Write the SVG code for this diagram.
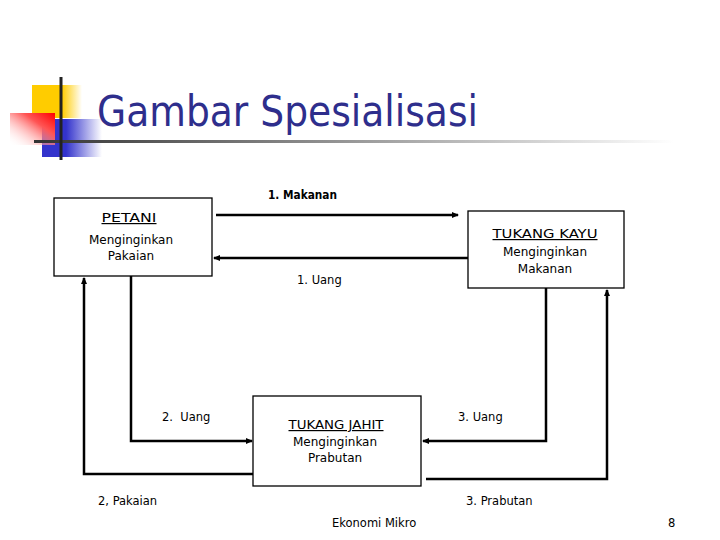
<svg xmlns="http://www.w3.org/2000/svg" width="720" height="540" viewBox="0 0 720 540">
<defs>
<linearGradient id="gYel" x1="0" y1="0" x2="1" y2="0">
<stop offset="0" stop-color="#ffcc00"/><stop offset="0.6" stop-color="#ffcc00"/><stop offset="1" stop-color="#ffcc00" stop-opacity="0"/>
</linearGradient>
<linearGradient id="gRed" x1="1" y1="0" x2="0" y2="1">
<stop offset="0" stop-color="#ff0000"/><stop offset="0.35" stop-color="#ff5555"/><stop offset="1" stop-color="#ffffff" stop-opacity="0"/>
</linearGradient>
<linearGradient id="gBlue" x1="0" y1="0" x2="1" y2="0">
<stop offset="0" stop-color="#3333cc"/><stop offset="0.4" stop-color="#3333cc"/><stop offset="1" stop-color="#3333cc" stop-opacity="0"/>
</linearGradient>
<linearGradient id="gLine" x1="0" y1="0" x2="1" y2="0">
<stop offset="0" stop-color="#333333"/><stop offset="0.5" stop-color="#999999"/><stop offset="1" stop-color="#ffffff"/>
</linearGradient>
<marker id="arr" markerWidth="8" markerHeight="8" refX="6" refY="4" orient="auto" markerUnits="userSpaceOnUse">
<path d="M0,1 L7,4 L0,7 Z" fill="#000"/>
</marker>
<style>
.box{fill:#fff;stroke:#000;stroke-width:1.3}
.t{font-family:"DejaVu Sans",Verdana,sans-serif;font-size:12px;fill:#000;text-anchor:middle}
.u{text-decoration:underline}
.lbl{font-family:"DejaVu Sans",Verdana,sans-serif;font-size:11.5px;fill:#000}
.c{fill:none;stroke:#000;stroke-width:2.5}
</style>
</defs>
<rect width="720" height="540" fill="#fff"/>
<g id="logo">
<rect x="32" y="85" width="50" height="33" fill="url(#gYel)"/>
<rect x="42" y="119" width="60" height="38" fill="url(#gBlue)"/>
<rect x="10" y="113" width="45" height="32" fill="url(#gRed)"/>
<rect x="34" y="140" width="640" height="3" fill="url(#gLine)"/>
<rect x="59.5" y="77" width="3" height="83" fill="#222"/>
</g>
<text x="97" y="126" font-family="'DejaVu Sans Condensed','DejaVu Sans',Verdana,sans-serif" font-size="43" fill="#2e2e8c" textLength="381" lengthAdjust="spacingAndGlyphs">Gambar Spesialisasi</text>
<g id="connectors">
<line class="c" x1="216" y1="215" x2="458" y2="215" marker-end="url(#arr)"/>
<line class="c" x1="468" y1="258" x2="214" y2="258" marker-end="url(#arr)"/>
<polyline class="c" points="131,276 131,441 252,441" marker-end="url(#arr)"/>
<polyline class="c" points="253,474 84,474 84,278" marker-end="url(#arr)"/>
<polyline class="c" points="546,288 546,441 423,441" marker-end="url(#arr)"/>
<polyline class="c" points="426,479 607,479 607,290" marker-end="url(#arr)"/>
</g>
<g id="petani">
<rect class="box" x="54" y="198" width="158" height="78"/>
<text class="t u" x="129" y="222" textLength="55" lengthAdjust="spacingAndGlyphs">PETANI</text>
<text class="t" x="131" y="244">Menginginkan</text>
<text class="t" x="131" y="260">Pakaian</text>
</g>
<g id="tukang-kayu">
<rect class="box" x="468" y="211" width="156" height="77"/>
<text class="t u" x="545" y="238" textLength="105" lengthAdjust="spacingAndGlyphs">TUKANG KAYU</text>
<text class="t" x="545" y="256">Menginginkan</text>
<text class="t" x="545" y="273">Makanan</text>
</g>
<g id="tukang-jahit">
<rect class="box" x="253" y="396" width="168" height="90"/>
<text class="t u" x="336" y="429" textLength="95" lengthAdjust="spacingAndGlyphs">TUKANG JAHIT</text>
<text class="t" x="335" y="446">Menginginkan</text>
<text class="t" x="335" y="462">Prabutan</text>
</g>
<g id="labels">
<text class="lbl" x="268" y="199" font-weight="bold" textLength="69" lengthAdjust="spacingAndGlyphs">1. Makanan</text>
<text class="lbl" x="297" y="284">1. Uang</text>
<text class="lbl" x="162" y="421" xml:space="preserve">2.  Uang</text>
<text class="lbl" x="458" y="421">3. Uang</text>
<text class="lbl" x="98" y="505">2, Pakaian</text>
<text class="lbl" x="466" y="505">3. Prabutan</text>
<text class="lbl" x="332" y="527" font-size="13">Ekonomi Mikro</text>
<text class="lbl" x="668" y="527" font-size="13">8</text>
</g>
</svg>
